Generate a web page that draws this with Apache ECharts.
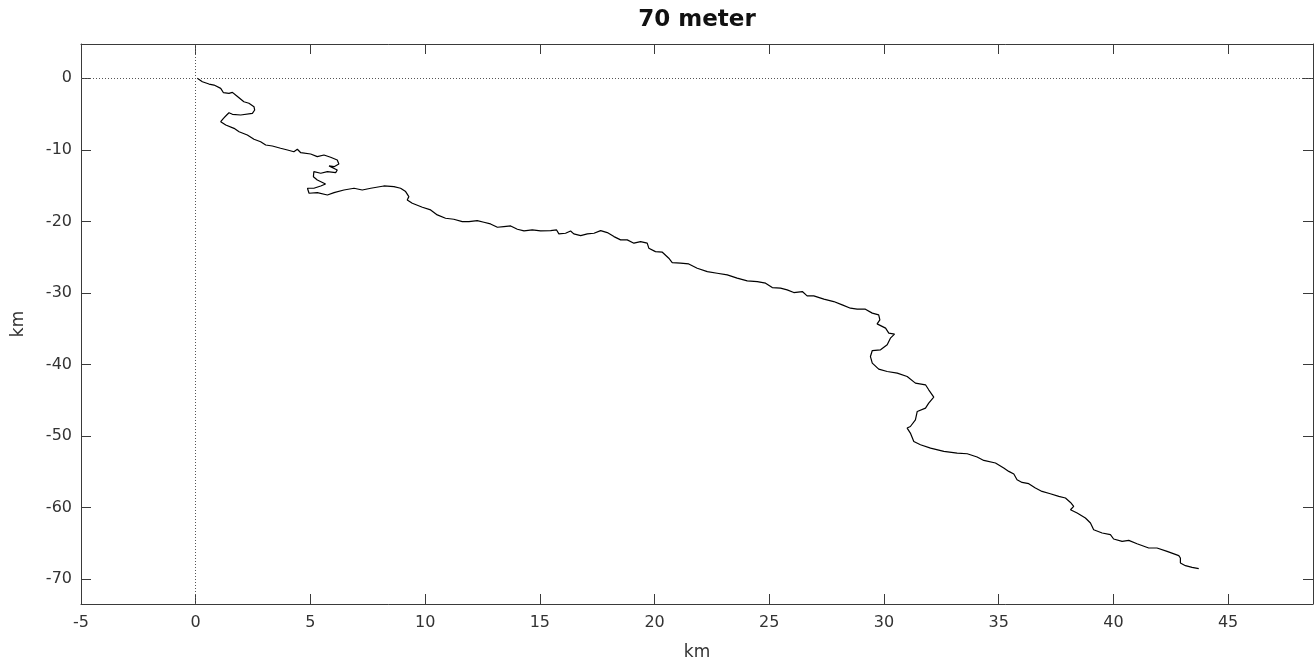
<!DOCTYPE html>
<html>
<head>
<meta charset="utf-8">
<title>70 meter</title>
<script src="https://cdn.jsdelivr.net/npm/echarts@6/dist/echarts.min.js"></script>
<style>
  html, body { margin: 0; padding: 0; background: #fff; }
  #chart { width: 1314px; height: 668px; }
</style>
</head>
<body>
<div id="chart"></div>
<script>
// track (km east / km north of start)
const trackX = [
  0.07, 0.29, 0.58, 0.51, 0.80, 1.09, 1.21, 1.45, 1.60, 1.74,
  2.10, 2.32, 2.54, 2.57, 2.47, 1.96, 1.60, 1.45, 1.35, 1.21,
  1.09, 1.31, 1.67, 1.89, 2.25, 2.54, 2.83, 3.05, 3.34, 3.70,
  4.00, 4.28, 4.43, 4.58, 5.01, 5.30, 5.59, 5.88, 6.17, 6.24,
  6.03, 5.81, 6.17, 6.10, 5.74, 5.45, 5.15, 5.13, 5.30, 5.66,
  5.45, 5.15, 4.87, 4.94, 5.30, 5.74, 6.03, 6.46, 6.90, 7.26,
  7.63, 8.20, 8.64, 8.93, 9.15, 9.29, 9.22, 9.44, 9.88, 10.24,
  10.53, 10.89, 11.25, 11.62, 11.91, 12.27, 12.56, 12.85, 13.15, 13.43,
  13.73, 14.02, 14.31, 14.67, 15.03, 15.47, 15.73, 15.83, 16.12, 16.34,
  16.48, 16.78, 17.07, 17.36, 17.65, 17.94, 18.23, 18.52, 18.81, 19.10,
  19.39, 19.68, 19.75, 20.04, 20.34, 20.62, 20.77, 21.13, 21.49, 21.86,
  22.30, 22.73, 23.17, 23.60, 24.04, 24.48, 24.84, 25.13, 25.49, 25.78,
  26.07, 26.44, 26.65, 26.94, 27.38, 27.81, 28.18, 28.54, 28.83, 29.19,
  29.49, 29.77, 29.82, 29.70, 30.07, 30.21, 30.46, 30.28, 30.14, 29.85,
  29.49, 29.41, 29.49, 29.77, 30.14, 30.58, 31.01, 31.37, 31.81, 31.95,
  32.17, 31.95, 31.81, 31.45, 31.37, 31.15, 31.01, 31.15, 31.08, 31.30,
  31.59, 32.03, 32.61, 33.19, 33.63, 34.06, 34.35, 34.86, 35.22, 35.44,
  35.66, 35.80, 36.02, 36.31, 36.60, 36.89, 37.25, 37.62, 37.91, 38.13,
  38.27, 38.13, 38.42, 38.78, 39.00, 39.14, 39.51, 39.87, 40.01, 40.38,
  40.67, 41.03, 41.54, 41.90, 42.34, 42.85, 42.92, 42.92, 43.14, 43.43,
  43.72
];
const trackY = [
  0.00, -0.48, -0.80, -0.94, -0.94, -1.40, -2.01, -2.10, -1.96, -2.33,
  -3.27, -3.49, -3.97, -4.43, -4.89, -5.13, -5.03, -4.81, -5.13, -5.59,
  -6.06, -6.53, -6.99, -7.46, -7.92, -8.52, -8.86, -9.32, -9.46, -9.78,
  -10.02, -10.26, -9.92, -10.40, -10.58, -10.95, -10.72, -11.04, -11.42, -11.97,
  -12.35, -12.25, -12.81, -13.19, -13.05, -13.27, -13.05, -13.75, -14.21, -14.77,
  -15.05, -15.37, -15.37, -16.07, -15.98, -16.31, -15.98, -15.61, -15.37, -15.61,
  -15.37, -15.05, -15.15, -15.37, -15.84, -16.54, -17.00, -17.47, -18.02, -18.40,
  -19.10, -19.56, -19.70, -20.04, -20.04, -19.90, -20.12, -20.36, -20.82, -20.73,
  -20.64, -21.10, -21.34, -21.20, -21.34, -21.29, -21.20, -21.75, -21.66, -21.34,
  -21.75, -21.99, -21.75, -21.66, -21.29, -21.57, -22.13, -22.59, -22.59, -23.05,
  -22.83, -23.05, -23.75, -24.23, -24.31, -25.15, -25.76, -25.85, -25.95, -26.55,
  -27.02, -27.25, -27.48, -27.94, -28.32, -28.42, -28.64, -29.26, -29.34, -29.58,
  -29.95, -29.81, -30.42, -30.42, -30.88, -31.21, -31.68, -32.14, -32.28, -32.28,
  -32.83, -33.07, -33.77, -34.33, -34.93, -35.63, -35.77, -36.33, -37.26, -37.96,
  -38.06, -38.90, -39.82, -40.66, -40.99, -41.22, -41.69, -42.62, -42.85, -43.55,
  -44.57, -45.41, -46.11, -46.58, -47.74, -48.68, -48.90, -49.60, -49.84, -50.78,
  -51.24, -51.70, -52.17, -52.40, -52.49, -52.95, -53.43, -53.79, -54.49, -54.96,
  -55.33, -56.12, -56.50, -56.68, -57.29, -57.76, -58.08, -58.46, -58.68, -59.30,
  -59.86, -60.32, -60.78, -61.48, -62.18, -63.11, -63.57, -63.81, -64.41, -64.75,
  -64.61, -65.07, -65.67, -65.67, -66.14, -66.74, -67.07, -67.77, -68.14, -68.38,
  -68.56
];

// tick labels
const xTicks = [-5, 0, 5, 10, 15, 20, 25, 30, 35, 40, 45];
const yTicks = [-70, -60, -50, -40, -30, -20, -10, 0];

const chart = echarts.init(document.getElementById('chart'), null, { renderer: 'canvas' });

const axisColor = '#3a3a3a';
const labelFont = 'DejaVu Sans';

function frameAxis(extra) {
  // box axes with inward ticks, shared by all four sides
  return Object.assign({
    type: 'value',
    axisLine: { show: true, onZero: false, lineStyle: { color: axisColor, width: 1 } },
    axisTick: { show: true, inside: true, length: 10, lineStyle: { color: axisColor } },
    splitLine: { show: false },
    axisLabel: { show: false }
  }, extra);
}

const points = trackX.map((x, i) => [x, trackY[i]]);

const option = {
  animation: false,
  backgroundColor: '#fff',
  title: {
    text: '70 meter',
    left: 692,
    top: 4,
    textAlign: 'center',
    textStyle: { fontFamily: labelFont, fontWeight: 'bold', fontSize: 23, color: '#111' }
  },
  grid: { left: 81, right: 1, top: 44, bottom: 64 },
  xAxis: [
    frameAxis({
      position: 'bottom',
      min: -5, max: 48.7,
      name: 'km', nameLocation: 'middle', nameGap: 40,
      nameTextStyle: { fontFamily: labelFont, fontSize: 17, color: '#333' },
      axisTick: { show: true, inside: true, length: 10, customValues: xTicks, lineStyle: { color: axisColor } },
      axisLabel: { show: true, customValues: xTicks, margin: 11, fontFamily: labelFont, fontSize: 16, color: '#333' }
    }),
    frameAxis({
      position: 'top',
      min: -5, max: 48.7,
      axisTick: { show: true, inside: true, length: 10, customValues: xTicks, lineStyle: { color: axisColor } }
    })
  ],
  yAxis: [
    frameAxis({
      position: 'left',
      min: -73.5, max: 4.8,
      name: 'km', nameLocation: 'middle', nameGap: 54,
      nameTextStyle: { fontFamily: labelFont, fontSize: 17, color: '#333' },
      axisTick: { show: true, inside: true, length: 10, customValues: yTicks, lineStyle: { color: axisColor } },
      axisLabel: { show: true, customValues: yTicks, margin: 9, fontFamily: labelFont, fontSize: 16, color: '#333' }
    }),
    frameAxis({
      position: 'right',
      min: -73.5, max: 4.8,
      axisTick: { show: true, inside: true, length: 10, customValues: yTicks, lineStyle: { color: axisColor } }
    })
  ],
  series: [{
    type: 'line',
    xAxisIndex: 0,
    yAxisIndex: 0,
    data: points,
    showSymbol: false,
    smooth: false,
    lineStyle: { color: '#000', width: 1.2 },
    markLine: {
      silent: true,
      symbol: ['none', 'none'],
      label: { show: false },
      lineStyle: { color: '#555', width: 1, type: [1, 2] },
      data: [{ xAxis: 0 }, { yAxis: 0 }]
    }
  }]
};

chart.setOption(option);
</script>
</body>
</html>
